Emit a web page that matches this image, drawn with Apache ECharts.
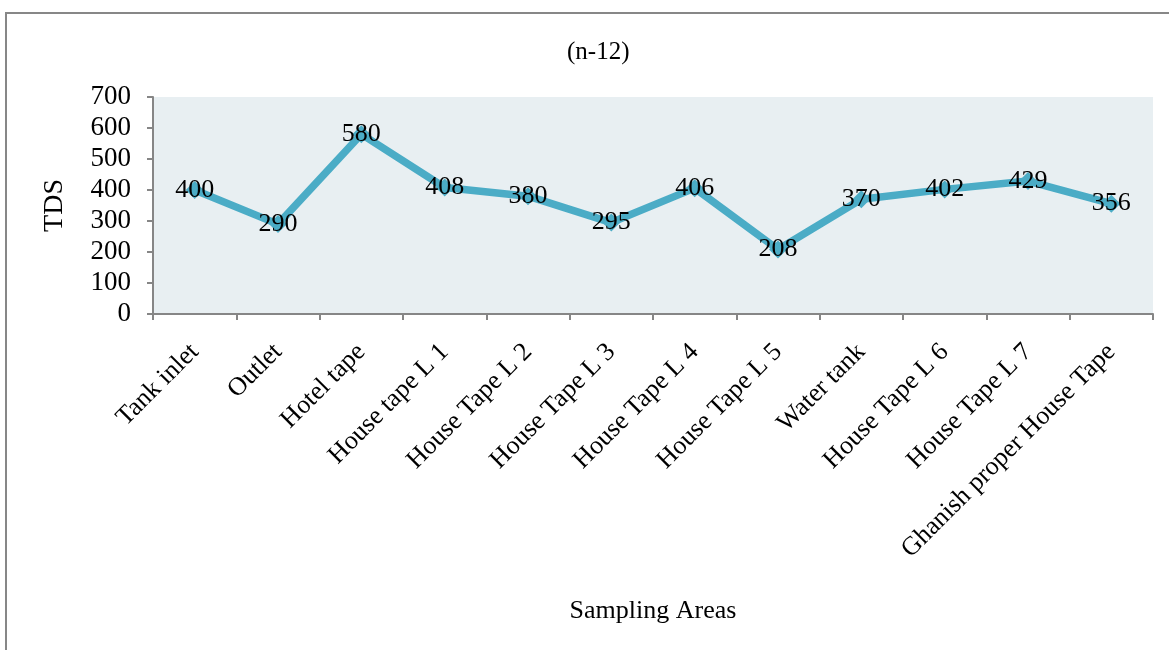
<!DOCTYPE html>
<html>
<head>
<meta charset="utf-8">
<script src="https://cdn.jsdelivr.net/npm/echarts@6/dist/echarts.min.js"></script>
<style>
html,body{margin:0;padding:0;background:#fff;}
#chart{width:1169px;height:650px;}
</style>
</head>
<body>
<div id="chart"></div>
<script>
const categories = ["Tank inlet","Outlet","Hotel tape","House tape L 1","House Tape L 2","House Tape L 3","House Tape L 4","House Tape L 5","Water tank","House Tape L 6","House Tape L 7","Ghanish proper House Tape"];
const tdsValues = [400, 290, 580, 408, 380, 295, 406, 208, 370, 402, 429, 356];
const titleText = "(n-12)";
const yName = "TDS";
const xName = "Sampling Areas";

const FONT = "'Liberation Serif','Times New Roman',serif";
const chart = echarts.init(document.getElementById('chart'));
chart.setOption({
  animation: false,
  backgroundColor: '#ffffff',
  title: {
    text: titleText,
    left: 562, top: 35,
    textStyle: {fontFamily: FONT, fontSize: 25, fontWeight: 'normal', color: '#000'}
  },
  graphic: [{
    type: 'rect', silent: true, z: 100,
    shape: {x: 6, y: 13, width: 1300, height: 800},
    style: {fill: 'none', stroke: '#878787', lineWidth: 2}
  }],
  grid: {left: 153, right: 16, top: 97, bottom: 336, show: true, backgroundColor: '#E8EFF2', borderWidth: 0},
  xAxis: {
    type: 'category', data: categories, boundaryGap: true,
    name: xName, nameLocation: 'middle', nameGap: 284,
    nameTextStyle: {fontFamily: FONT, fontSize: 26, color: '#000'},
    axisLine: {lineStyle: {color: '#868686', width: 2}},
    axisTick: {show: true, alignWithLabel: false, length: 6, lineStyle: {color: '#868686', width: 2}},
    axisLabel: {rotate: 45, interval: 0, margin: 34, fontFamily: FONT, fontSize: 26, color: '#000'},
    splitLine: {show: false}
  },
  yAxis: {
    type: 'value', min: 0, max: 700, interval: 100,
    name: yName, nameLocation: 'middle', nameGap: 84, nameRotate: 90,
    nameTextStyle: {fontFamily: FONT, fontSize: 28, color: '#000'},
    axisLine: {show: true, lineStyle: {color: '#868686', width: 2}},
    axisTick: {show: true, length: 6, lineStyle: {color: '#868686', width: 2}},
    axisLabel: {margin: 22, fontFamily: FONT, fontSize: 27, color: '#000'},
    splitLine: {show: false}
  },
  series: [{
    type: 'line', data: tdsValues,
    symbol: 'diamond', symbolSize: 18,
    itemStyle: {color: '#4BACC6'},
    lineStyle: {color: '#4BACC6', width: 7.5},
    label: {show: true, position: 'inside', fontFamily: FONT, fontSize: 26, color: '#000'}
  }]
});
</script>
</body>
</html>
